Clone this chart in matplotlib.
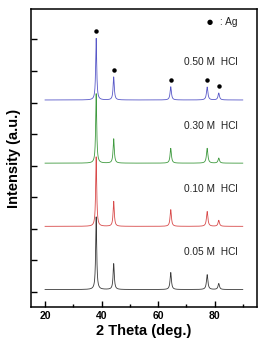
import numpy as np
import matplotlib.pyplot as plt

# picos de Ag (2 theta) y alturas relativas
ag_pos = [38.1, 44.3, 64.5, 77.4, 81.5]
series = ['0.05 M  HCl', '0.10 M  HCl', '0.30 M  HCl', '0.50 M  HCl']
offsets = [0, 2, 4, 6]
colors = ['#3a3a3a', '#d84a4a', '#3f9a3f', '#5858c8']
heights_005 = [2.3, 0.82, 0.54, 0.47, 0.19]
heights_010 = [2.2, 0.79, 0.53, 0.47, 0.19]
heights_030 = [2.2, 0.77, 0.47, 0.47, 0.16]
heights_050 = [1.95, 0.73, 0.42, 0.41, 0.22]
heights = [heights_005, heights_010, heights_030, heights_050]
baseline = 0.08
widths = [0.22, 0.25, 0.28, 0.3, 0.3]

plt.rcParams['font.family'] = ['Liberation Sans', 'DejaVu Sans']
fig = plt.figure(figsize=(2.6, 3.46), dpi=100)
ax = fig.add_axes([0.119, 0.113, 0.869, 0.861])

x = np.linspace(20, 90, 3500)
for i, (name, off, col, h) in enumerate(zip(series, offsets, colors, heights)):
    y = np.full_like(x, off + baseline)
    for p, a, w in zip(ag_pos, h, widths):
        y += a * w**2 / ((x - p)**2 + w**2)
    ax.plot(x, y, color=col, lw=0.6, zorder=2 + i)
    ax.text(0.915, off + 1.27, name, transform=ax.get_yaxis_transform(),
            ha='right', va='center', fontsize=7.3, color='#222222')

# marcadores de Ag sobre la serie superior
top = heights[-1]
ax.plot(ag_pos, [offsets[-1] + baseline + t + 0.22 for t in top], 'o',
        color='black', ms=2.2, zorder=10)
ax.text(0.915, 0.955, ': Ag', transform=ax.transAxes, ha='right', va='center',
        fontsize=7.3, color='#222222')
ax.text(0.805, 0.955, '●', transform=ax.transAxes, ha='right', va='center',
        fontsize=5, family=['DejaVu Sans'], color='black')

ax.set_xlim(15, 95)
ax.set_ylim(-0.47, 8.96)
ax.set_xticks([20, 40, 60, 80])
ax.set_xticks([30, 50, 70, 90], minor=True)
ax.set_yticks(range(0, 9))
ax.set_yticklabels([])
ax.tick_params(axis='both', which='major', direction='in', length=4, width=1)
ax.tick_params(axis='x', which='minor', direction='in', length=2.5, width=1)
ax.tick_params(axis='x', labelsize=7.5, pad=3)
for lab in ax.get_xticklabels():
    lab.set_fontweight('bold')
for s in ax.spines.values():
    s.set_linewidth(1.1)

ax.set_xlabel('2 Theta (deg.)', fontsize=10.5, fontweight='bold', labelpad=2)
ax.set_ylabel('Intensity (a.u.)', fontsize=10.5, fontweight='bold', labelpad=4)

fig.savefig('out.png', dpi=100)
